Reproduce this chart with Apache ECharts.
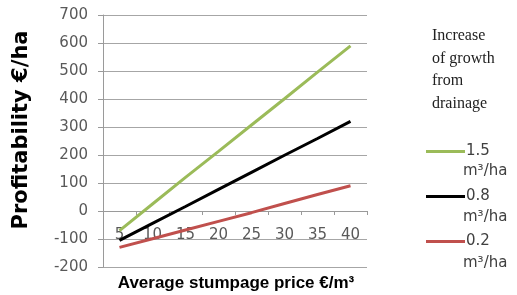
<!DOCTYPE html>
<html>
<head>
<meta charset="utf-8">
<script src="https://cdn.jsdelivr.net/npm/echarts@6/dist/echarts.min.js"></script>
<style>
  html, body { margin: 0; padding: 0; background: #fff; }
  #chart { width: 517px; height: 295px; }
</style>
</head>
<body>
<div id="chart"></div>
<script>
// price categories, euro per m3
var prices = ['5', '10', '15', '20', '25', '30', '35', '40'];
// profitability per growth increase
var growth15 = [-70, 25, 120, 213, 307, 401, 496, 590];
var growth08 = [-105, -44, 16, 77, 138, 199, 259, 320];
var growth02 = [-130, -99, -68, -37, -6, 27, 59, 90];
var seriesNames = ['1.5', '0.8', '0.2'];
var yTicks = { min: -200, max: 700, step: 100 };

var chart = echarts.init(document.getElementById('chart'));

function mkLine(name, data, color) {
    return {
        name: name,
        type: 'line',
        data: data,
        symbol: 'none',
        lineStyle: { color: color, width: 3 },
        itemStyle: { color: color }
    };
}

var unitFont = '15px "DejaVu Sans"';

var option = {
    animation: false,
    grid: { left: 103, right: 150, top: 15, bottom: 28 },
    xAxis: {
        type: 'category',
        data: prices,
        boundaryGap: true,
        offset: -56,  // sits on the 0 line like excel does
        axisLine: { onZero: false, lineStyle: { color: '#9a9a9a', width: 1 } },
        axisTick: { show: true, length: 4, lineStyle: { color: '#9a9a9a' } },
        axisLabel: { margin: 17, color: '#595959', fontSize: 15, fontFamily: 'DejaVu Sans' }
    },
    yAxis: {
        type: 'value',
        min: yTicks.min,
        max: yTicks.max,
        interval: yTicks.step,
        axisLine: { show: true, lineStyle: { color: '#9a9a9a' } },
        axisTick: { show: true, length: 5, lineStyle: { color: '#9a9a9a' } },
        splitLine: { lineStyle: { color: '#a6a6a6' } },
        axisLabel: { margin: 15, color: '#595959', fontSize: 15, fontFamily: 'DejaVu Sans' }
    },
    legend: {
        orient: 'vertical',
        left: 421,
        top: 139,
        itemWidth: 39,
        itemHeight: 16,
        itemGap: 30,
        icon: 'path://M0,7 L39,7 L39,10 L0,10 Z',
        data: seriesNames,
        textStyle: { color: '#404040', fontSize: 15, fontFamily: 'DejaVu Sans', padding: [0, 0, 0, -4] }
    },
    graphic: [
        {
            type: 'text', left: 432, top: 25,
            style: { text: 'Increase\nof growth\nfrom\ndrainage', font: '16px "Liberation Serif"', lineHeight: 22.5, fill: '#222' }
        },
        { type: 'text', left: 463, top: 164, style: { text: 'm³/ha', font: unitFont, fill: '#404040' } },
        { type: 'text', left: 463, top: 210, style: { text: 'm³/ha', font: unitFont, fill: '#404040' } },
        { type: 'text', left: 463, top: 256, style: { text: 'm³/ha', font: unitFont, fill: '#404040' } },
        {
            type: 'text', x: 22, y: 130, rotation: Math.PI / 2,
            style: { text: 'Profitability €/ha', font: 'bold 21px "DejaVu Sans"', fill: '#000', align: 'center', verticalAlign: 'middle' }
        },
        {
            type: 'text', x: 236, y: 283,
            style: { text: 'Average stumpage price €/m³', font: 'bold 17px "Liberation Sans"', fill: '#000', align: 'center', verticalAlign: 'middle' }
        }
    ],
    series: [
        mkLine(seriesNames[0], growth15, '#9bbb59'),
        mkLine(seriesNames[1], growth08, '#000000'),
        mkLine(seriesNames[2], growth02, '#c0504d')
    ]
};
chart.setOption(option);
</script>
</body>
</html>
